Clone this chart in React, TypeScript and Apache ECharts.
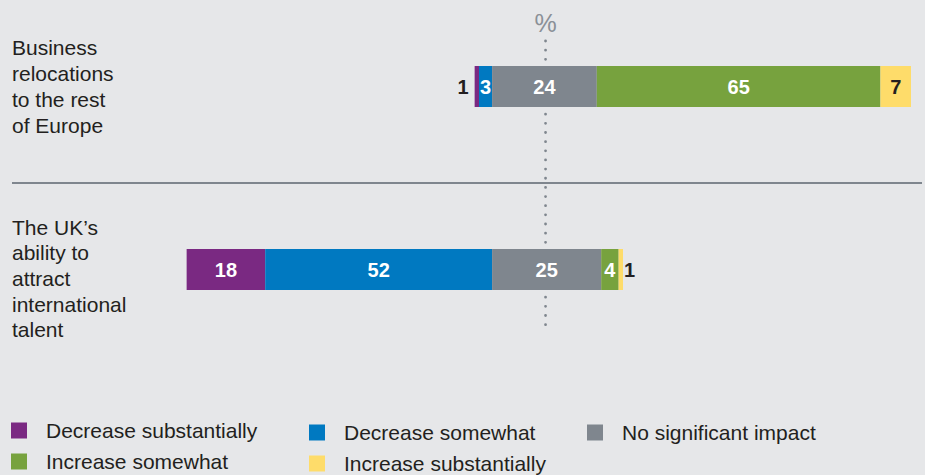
import React, { useEffect, useRef } from "react";
import * as echarts from "echarts";

const categories = [
  "Business\nrelocations\nto the rest\nof Europe",
  "The UK’s\nability to\nattract\ninternational\ntalent",
];
const seriesNames = [
  "Decrease substantially",
  "Decrease somewhat",
  "No significant impact",
  "Increase somewhat",
  "Increase substantially",
];
const decreaseSubstantially = [1, 18];
const decreaseSomewhat = [3, 52];
const noSignificantImpact = [24, 25];
const increaseSomewhat = [65, 4];
const increaseSubstantially = [7, 1];
const unitLabel = "%";

const colors = ["#7a2982", "#0079c1", "#7f868e", "#77a23e", "#fedc6a"];
const FONT = "'Liberation Sans', Arial, Helvetica, sans-serif";
const DARK = "#231f20";

export default function App() {
  const ref = useRef<HTMLDivElement>(null);
  useEffect(() => {
    if (!ref.current) return;
    const chart = echarts.init(ref.current, undefined, { renderer: "svg" });
    const values = [
      decreaseSubstantially,
      decreaseSomewhat,
      noSignificantImpact,
      increaseSomewhat,
      increaseSubstantially,
    ];
    const base = decreaseSubstantially.map((v, i) => -(v + decreaseSomewhat[i]));

    const makeData = (arr: number[], si: number) =>
      arr.map((v) => {
        const small = v <= 2;
        const dark = si === 4 || small;
        return {
          value: v,
          label: {
            position: small ? (si < 2 ? "left" : "right") : "inside",
            distance: si < 2 ? 6 : 1,
            color: dark ? DARK : "#ffffff",
          },
        };
      });

    const series: any[] = [
      {
        name: "base",
        type: "bar",
        stack: "total",
        stackStrategy: "all",
        data: base,
        itemStyle: { color: "transparent" },
        barWidth: 41,
        silent: true,
        label: { show: false },
      },
      ...values.map((arr, si) => ({
        name: seriesNames[si],
        type: "bar",
        stack: "total",
        stackStrategy: "all",
        barWidth: 41,
        itemStyle: { color: colors[si] },
        label: {
          show: true,
          fontFamily: FONT,
          fontSize: 20,
          fontWeight: "bold",
        },
        data: makeData(arr, si),
      })),
    ];

    const legendCommon = {
      orient: "vertical",
      icon: "rect",
      itemWidth: 16,
      itemHeight: 16,
      itemGap: 10,
      padding: 0,
      height: 60,
      selectedMode: false,
      textStyle: {
        fontFamily: FONT,
        fontSize: 21,
        lineHeight: 16,
        color: DARK,
        padding: [0, 0, 0, 14],
      },
    };

    const option: any = {
      animation: false,
      backgroundColor: "#e6e7e9",
      grid: {
        left: 143,
        right: 14,
        top: -5,
        height: 366,
        containLabel: false,
        outerBoundsMode: "none",
      },
      xAxis: {
        type: "value",
        min: -80,
        max: 96,
        show: false,
      },
      yAxis: {
        type: "category",
        inverse: true,
        data: categories,
        axisLine: { show: false },
        axisTick: { show: false },
        splitLine: { show: false },
        axisLabel: { show: false },
      },
      legend: [
        { ...legendCommon, left: 11, top: 420, data: [seriesNames[0], seriesNames[3]] },
        { ...legendCommon, left: 309, top: 422, data: [seriesNames[1], seriesNames[4]] },
        { ...legendCommon, left: 587, top: 422, data: [seriesNames[2]] },
      ],
      series,
    };
    chart.setOption(option);

    const centerValue =
      noSignificantImpact.reduce((a, b) => a + b, 0) / noSignificantImpact.length / 2;
    const cx = chart.convertToPixel({ xAxisIndex: 0 }, centerValue) as number;
    const labelOffsets = [0, 9];
    const catLabels = categories.map((c, i) => {
      const cy = chart.convertToPixel({ yAxisIndex: 0 }, c) as number;
      return {
        id: "cat" + i,
        type: "text",
        x: 12,
        y: cy + labelOffsets[i],
        style: {
          text: c,
          fill: DARK,
          font: `21px ${FONT}`,
          lineHeight: 25.7,
          align: "left",
          verticalAlign: "middle",
        },
      };
    });

    chart.setOption({
      graphic: [
        {
          id: "sep",
          type: "line",
          z: 0,
          shape: { x1: 12, y1: 183, x2: 922, y2: 183 },
          style: { stroke: "#7f868e", lineWidth: 2 },
        },
        {
          id: "dots",
          type: "line",
          z: 0,
          shape: { x1: cx, y1: 41, x2: cx, y2: 326 },
          style: {
            stroke: "#7f868e",
            lineWidth: 2.8,
            lineCap: "round",
            lineDash: [0, 9.15],
          },
        },
        {
          id: "pct",
          type: "text",
          x: cx,
          y: 23,
          style: {
            text: unitLabel,
            fill: "#8a9097",
            font: `25px ${FONT}`,
            align: "center",
            verticalAlign: "middle",
          },
        },
        ...catLabels,
      ],
    });

    return () => chart.dispose();
  }, []);
  return (
    <div
      ref={ref}
      style={{ position: "fixed", left: 0, top: 0, width: 925, height: 475 }}
    />
  );
}
